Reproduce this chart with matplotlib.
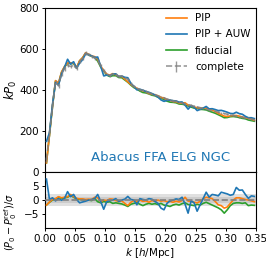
import matplotlib
matplotlib.use("Agg")
import matplotlib.pyplot as plt
import numpy as np

k = [0.0025 + 0.005 * i for i in range(70)]

complete_kP = [60, 190, 320, 440, 420, 480, 505, 520, 515, 520,
               505, 540, 555, 580, 572, 565, 555, 545, 520, 495,
               478, 470, 478, 476, 468, 468, 460, 452, 432, 418,
               410, 402, 398, 393, 387, 382, 378, 372, 366, 362,
               356, 352, 348, 345, 340, 337, 333, 329, 325, 321,
               318, 314, 310, 307, 303, 300, 297, 293, 289, 286,
               282, 279, 276, 273, 270, 267, 264, 262, 259, 256]
sigma_kP = [12, 12, 12, 11, 11, 10, 10, 10, 9, 9,
            8, 8, 8, 8, 7, 7, 7, 7, 7, 6,
            6, 6, 6, 6, 6, 6, 6, 6, 6, 5,
            5, 5, 5, 5, 5, 5, 5, 5, 5, 5,
            5, 5, 5, 5, 5, 5, 5, 5, 5, 5,
            4.5, 4.5, 4.5, 4.5, 4.5, 4.5, 4.5, 4.5, 4.5, 4.5,
            4.5, 4.5, 4.5, 4.5, 4.5, 4.5, 4.5, 4.5, 4.5, 4.5]
pip_kP = [45, 182, 322, 446, 434, 488, 515, 532, 533, 531,
          510, 543, 558, 582, 574, 566, 563, 551, 516, 495,
          477, 473, 480, 475, 465, 466, 453, 440, 427, 417,
          408, 402, 396, 392, 383, 381, 376, 372, 364, 361,
          353, 350, 344, 343, 337, 336, 338, 327, 323, 317,
          314, 312, 312, 312, 307, 302, 295, 286, 280, 273,
          271, 274, 276, 276, 273, 269, 265, 262, 258, 253]
auw_kP = [150, 192, 330, 437, 425, 479, 511, 550, 526, 538,
          507, 532, 549, 577, 572, 567, 559, 561, 516, 469,
          474, 469, 478, 479, 465, 468, 462, 460, 433, 418,
          401, 404, 399, 393, 389, 383, 376, 366, 352, 345,
          350, 351, 348, 347, 341, 342, 326, 307, 324, 316,
          300, 306, 312, 320, 308, 309, 305, 300, 301, 297,
          292, 286, 285, 292, 285, 282, 272, 265, 265, 261]
fid_kP = [45, 181, 320, 443, 432, 486, 513, 530, 530, 529,
          508, 542, 557, 580, 572, 564, 559, 541, 512, 492,
          473, 466, 470, 470, 461, 460, 449, 438, 424, 412,
          405, 395, 388, 386, 381, 375, 372, 365, 360, 354,
          346, 341, 340, 338, 332, 331, 328, 322, 317, 312,
          311, 306, 305, 303, 297, 292, 287, 280, 273, 265,
          266, 270, 271, 269, 266, 262, 260, 254, 251, 248]

pip_res = [-1.8, -0.7, 0.2, 0.5, 1.2, 0.8, 1.0, 1.2, 2.0, 1.2,
           0.6, 0.4, 0.4, 0.2, 0.3, 0.2, 1.0, 0.8, -0.6, 0.0,
           -0.2, 0.4, 0.3, -0.2, -0.5, -0.3, -1.2, -2.0, -0.8, -0.2,
           -0.5, 0.0, -0.5, -0.3, -0.8, -0.2, -0.5, 0.0, -0.4, -0.2,
           -0.6, -0.5, -0.8, -0.4, -0.7, -0.2, 1.0, -0.4, -0.5, -0.8,
           -1.0, -0.5, 0.5, 1.0, 0.8, 0.5, -0.5, -1.7, -2.0, -2.9,
           -2.5, -1.2, 0.0, 0.8, 0.8, 0.5, 0.2, 0.0, -0.3, -0.6]
auw_res = [7.5, 0.2, 0.8, -0.3, 0.5, -0.1, 0.6, 3.0, 1.2, 2.0,
           0.2, -1.0, -0.7, -0.4, 0.0, 0.2, 0.5, 2.0, -0.5, -3.3,
           -0.6, -0.2, 0.0, 0.5, -0.5, 0.0, 0.3, 1.3, 0.2, 0.0,
           -1.7, 0.5, 0.2, 0.0, 0.5, 0.3, -0.5, -1.2, -2.9, -3.5,
           -1.2, -0.3, 0.0, 0.4, 0.2, 1.0, -1.5, -4.7, -0.3, -1.0,
           -4.0, -1.7, 0.5, 2.8, 1.0, 2.0, 1.8, 1.5, 2.8, 2.5,
           2.2, 1.7, 2.0, 4.5, 3.5, 3.6, 2.0, 0.6, 1.5, 1.3]
fid_res = [-1.8, -0.8, 0.0, 0.3, 1.0, 0.6, 0.8, 1.0, 1.7, 1.0,
           0.4, 0.2, 0.2, 0.0, 0.0, -0.2, 0.5, -0.6, -1.0, -0.5,
           -0.8, -0.6, -1.2, -1.0, -1.2, -1.4, -1.8, -2.3, -1.5, -1.2,
           -1.0, -1.5, -2.0, -1.5, -1.2, -1.5, -1.3, -1.6, -1.2, -1.8,
           -2.0, -2.3, -1.8, -1.5, -1.8, -1.3, -1.0, -1.6, -1.8, -2.0,
           -1.5, -1.8, -1.2, -0.8, -1.3, -1.8, -2.3, -2.8, -3.5, -4.7,
           -3.5, -2.0, -1.2, -1.0, -1.0, -1.2, -1.0, -2.0, -1.8, -1.9]

labels = ["PIP", "PIP + AUW", "fiducial", "complete"]
title = "Abacus FFA ELG NGC"

plt.rcParams['font.size'] = 7.5
plt.rcParams['xtick.major.size'] = 2.3
plt.rcParams['ytick.major.size'] = 2.3
plt.rcParams['xtick.major.pad'] = 1.8
plt.rcParams['ytick.major.pad'] = 1.8
plt.rcParams['xtick.major.width'] = 0.7
plt.rcParams['ytick.major.width'] = 0.7
plt.rcParams['axes.linewidth'] = 0.8

fig = plt.figure(figsize=(2.66, 2.66), dpi=100)
ax = fig.add_axes([0.169, 0.353, 0.793, 0.617])
axr = fig.add_axes([0.169, 0.143, 0.793, 0.210], sharex=ax)

kk = np.array(k)
auw = np.array(auw_kP)
sig = np.array(sigma_kP)
ax.fill_between(kk, auw - sig * 0.5, auw + sig * 0.5, color='C0', alpha=0.25, lw=0, zorder=1)
ax.plot(k, fid_kP, color='C2', lw=1.2, zorder=2)
ax.plot(k, pip_kP, color='C1', lw=1.2, zorder=3)
ax.plot(k, auw_kP, color='C0', lw=1.2, zorder=4)
ax.errorbar(k, complete_kP, yerr=sigma_kP, color='gray', ls='--', lw=1.2,
            elinewidth=1.0, zorder=5, alpha=0.8)
from matplotlib.lines import Line2D
handles = [Line2D([], [], color='C1', lw=1.2), Line2D([], [], color='C0', lw=1.2),
           Line2D([], [], color='C2', lw=1.2)]
h_err = ax.errorbar([], [], yerr=[], color='gray', ls='--', lw=1.2, elinewidth=1.0, alpha=0.8)
handles.append(h_err)
ax.legend(handles, labels, loc='upper right', frameon=False, fontsize=7.5,
          handlelength=2.0, labelspacing=0.6, borderaxespad=0.1)
ax.text(0.55, 0.09, title, color='C0', fontsize=9.5, ha='center', va='center',
        transform=ax.transAxes)
ax.set_ylim(0, 800)
ax.set_yticks([0, 200, 400, 600, 800])
ax.set_ylabel(r'$kP_0$', fontsize=8.5)
ax.yaxis.set_label_coords(-0.125, 0.5)
ax.tick_params(labelbottom=False)

axr.axhspan(-2, 2, color='0.88', lw=0, zorder=0)
axr.axhspan(-1, 1, color='0.8', lw=0, zorder=0)
axr.axhline(0, color='gray', ls='--', lw=1.2, zorder=5)
axr.plot(k, fid_res, color='C2', lw=1.2, zorder=2)
axr.plot(k, pip_res, color='C1', lw=1.2, zorder=3)
axr.plot(k, auw_res, color='C0', lw=1.2, zorder=4)
axr.set_ylim(-10, 10)
axr.set_yticks([-5, 0, 5])
axr.set_xlim(0, 0.35)
axr.set_xticks([0, 0.05, 0.1, 0.15, 0.2, 0.25, 0.3, 0.35])
axr.set_xticklabels(['0.00', '0.05', '0.10', '0.15', '0.20', '0.25', '0.30', '0.35'])
axr.set_xlabel(r'$k$ [$h$/Mpc]', labelpad=2)
axr.set_ylabel(r'$(P_0 - P_0^{\rm ref})/\sigma$', fontsize=7)
axr.yaxis.set_label_coords(-0.125, 0.1)

fig.savefig('out.png', dpi=100)
